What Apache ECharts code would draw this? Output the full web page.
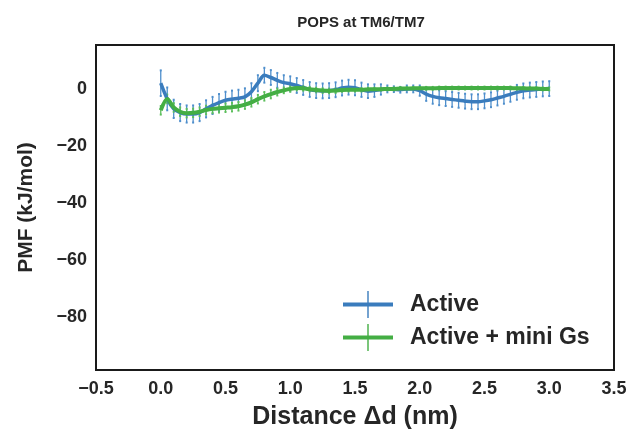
<!DOCTYPE html>
<html>
<head>
<meta charset="utf-8">
<script src="https://cdn.jsdelivr.net/npm/echarts@6/dist/echarts.min.js"></script>
<style>
  html, body { margin: 0; padding: 0; background: #fff; }
  #chart { width: 631px; height: 435px; }
</style>
</head>
<body>
<div id="chart"></div>
<script>
// distance (nm)
const distance = [
  0.00, 0.05, 0.10, 0.15, 0.20, 0.25, 0.30, 0.35, 0.40, 0.45,
  0.50, 0.55, 0.60, 0.65, 0.70, 0.75, 0.80, 0.85, 0.90, 0.95,
  1.00, 1.05, 1.10, 1.15, 1.20, 1.25, 1.30, 1.35, 1.40, 1.45,
  1.50, 1.55, 1.60, 1.65, 1.70, 1.75, 1.80, 1.85, 1.90, 1.95,
  2.00, 2.05, 2.10, 2.15, 2.20, 2.25, 2.30, 2.35, 2.40, 2.45,
  2.50, 2.55, 2.60, 2.65, 2.70, 2.75, 2.80, 2.85, 2.90, 2.95,
  3.00
];

// PMF (kJ/mol), Active
const activePmf = [
  2.0, -3.5, -7.0, -8.3, -8.8, -8.8, -8.3, -7.0, -5.8, -4.8,
  -4.0, -3.6, -3.3, -2.8, -1.0, 2.0, 4.8, 4.0, 3.0, 2.2,
  1.8, 1.2, 0.5, -0.2, -0.6, -0.7, -0.6, -0.3, 0.3, 0.6,
  0.4, -0.3, -0.8, -0.6, -0.2, 0.0, -0.1, -0.3, 0.0, 0.0,
  -0.6, -1.8, -2.6, -3.1, -3.4, -3.7, -4.0, -4.3, -4.5, -4.5,
  -4.2, -3.8, -3.2, -2.6, -1.9, -1.2, -0.7, -0.4, -0.2, 0.0,
  0.1
];
const activeErr = [
  4.5, 4.0, 3.2, 3.0, 3.0, 3.0, 3.0, 3.0, 3.0, 3.0,
  3.0, 3.0, 3.0, 3.0, 3.0, 2.8, 2.6, 2.6, 2.6, 2.6,
  2.6, 2.6, 2.6, 2.6, 2.6, 2.6, 2.6, 2.6, 2.6, 2.6,
  2.6, 2.5, 2.4, 2.2, 1.8, 1.2, 1.0, 1.0, 1.2, 1.2,
  1.8, 2.4, 2.6, 2.6, 2.6, 2.6, 2.6, 2.6, 2.6, 2.6,
  2.6, 2.6, 2.6, 2.6, 2.6, 2.6, 2.6, 2.6, 2.6, 2.6,
  2.6
];

// PMF (kJ/mol), Active + mini Gs
const miniGsPmf = [
  -7.5, -3.5, -6.5, -8.0, -8.5, -8.4, -8.0, -7.4, -7.0, -6.8,
  -6.6, -6.4, -6.1, -5.5, -4.7, -3.6, -2.6, -1.8, -1.1, -0.5,
  0.0, 0.3, 0.2, -0.1, -0.4, -0.6, -0.7, -0.6, -0.4, -0.3,
  -0.3, -0.3, -0.2, -0.1, -0.1, 0.0, 0.0, 0.1, 0.1, 0.2,
  0.2, 0.2, 0.2, 0.3, 0.3, 0.3, 0.3, 0.3, 0.3, 0.3,
  0.3, 0.3, 0.3, 0.3, 0.3, 0.2, 0.2, 0.1, 0.1, 0.0,
  0.0
];
const miniGsErr = [
  1.5, 1.5, 1.5, 1.5, 1.5, 1.5, 1.5, 1.5, 1.5, 1.5,
  1.5, 1.5, 1.5, 1.5, 1.5, 1.5, 1.5, 1.5, 1.2, 1.0,
  1.0, 0.8, 0.8, 0.8, 0.8, 0.8, 0.8, 0.8, 0.6, 0.6,
  0.6, 0.6, 0.6, 0.5, 0.5, 0.5, 0.5, 0.5, 0.5, 0.5,
  0.5, 0.5, 0.5, 0.5, 0.5, 0.5, 0.5, 0.5, 0.5, 0.5,
  0.5, 0.5, 0.5, 0.5, 0.5, 0.5, 0.5, 0.5, 0.5, 0.5,
  0.5
];

const yTicks = [-80, -60, -40, -20, 0];

const blue = '#3a7cbd';
const blueBar = '#4f8fcc';
const green = '#44ae44';
const greenBar = '#5cbf5c';
const textColor = '#262626';
const fontFamily = 'Liberation Sans, Arial, sans-serif';

const minus = (s) => String(s).replace('-', '\u2212');

const pairs = (ys) => distance.map((d, i) => [d, ys[i]]);
const errRows = (ys, es) => distance.map((d, i) => [d, ys[i] - es[i], ys[i] + es[i]]);

// vertical error bar with tiny caps
const errorBar = (color) => (params, api) => {
  const x = api.value(0);
  const lo = api.coord([x, api.value(1)]);
  const hi = api.coord([x, api.value(2)]);
  const style = { stroke: color, lineWidth: 1.3 };
  return {
    type: 'group',
    children: [
      { type: 'line', shape: { x1: lo[0], y1: lo[1], x2: hi[0], y2: hi[1] }, style },
      { type: 'line', shape: { x1: lo[0] - 1, y1: lo[1], x2: lo[0] + 1, y2: lo[1] }, style: { stroke: color, lineWidth: 2 } },
      { type: 'line', shape: { x1: hi[0] - 1, y1: hi[1], x2: hi[0] + 1, y2: hi[1] }, style: { stroke: color, lineWidth: 2 } }
    ]
  };
};

const legendIcon = 'path://M0,11.5 L50,11.5 L50,15.5 L0,15.5 Z M24.3,0 L25.7,0 L25.7,27 L24.3,27 Z';

const chart = echarts.init(document.getElementById('chart'));
chart.setOption({
  animation: false,
  textStyle: { fontFamily },
  title: {
    text: 'POPS at TM6/TM7',
    left: 356,
    textAlign: 'center',
    top: 10,
    textStyle: { fontSize: 15, fontWeight: 'bold', color: textColor, fontFamily }
  },
  grid: {
    left: 96, right: 17, top: 45, bottom: 65,
    show: true, borderColor: '#1a1a1a', borderWidth: 2, backgroundColor: '#fff'
  },
  legend: {
    data: [
      { name: 'Active', icon: legendIcon, itemStyle: { color: blue } },
      { name: 'Active + mini Gs', icon: legendIcon, itemStyle: { color: green } }
    ],
    orient: 'vertical',
    left: 338,
    top: 286,
    itemWidth: 50,
    itemHeight: 27,
    itemGap: 6,
    textStyle: { fontSize: 23, fontWeight: 'bold', color: textColor, fontFamily, padding: [0, 0, 0, 12] }
  },
  xAxis: {
    type: 'value',
    min: -0.5,
    max: 3.5,
    interval: 0.5,
    name: 'Distance \u0394d (nm)',
    nameLocation: 'middle',
    nameGap: 35,
    nameTextStyle: { fontSize: 25, fontWeight: 'bold', color: textColor, fontFamily },
    axisLine: { show: false },
    axisTick: { show: false },
    splitLine: { show: false },
    axisLabel: {
      fontSize: 18, fontWeight: 'bold', color: textColor, margin: 10,
      formatter: (v) => minus(v.toFixed(1))
    }
  },
  yAxis: {
    type: 'value',
    min: -98.6,
    max: 15.4,
    name: 'PMF (kJ/mol)',
    nameLocation: 'middle',
    nameGap: 59,
    nameTextStyle: { fontSize: 21, fontWeight: 'bold', color: textColor, fontFamily },
    axisLine: { show: false },
    axisTick: { show: false },
    splitLine: { show: false },
    axisLabel: {
      customValues: yTicks,
      fontSize: 18, fontWeight: 'bold', color: textColor, margin: 9,
      formatter: (v) => minus(v)
    }
  },
  series: [
    {
      name: 'Active',
      type: 'line',
      data: pairs(activePmf),
      smooth: 0.3,
      showSymbol: false,
      lineStyle: { color: blue, width: 3.5 },
      itemStyle: { color: blue },
      z: 4
    },
    {
      name: 'Active + mini Gs',
      type: 'line',
      data: pairs(miniGsPmf),
      smooth: 0.3,
      showSymbol: false,
      lineStyle: { color: green, width: 4 },
      itemStyle: { color: green },
      z: 5
    },
    {
      name: 'activeErr',
      type: 'custom',
      data: errRows(activePmf, activeErr),
      renderItem: errorBar(blueBar),
      encode: { x: 0, y: [1, 2] },
      silent: true,
      z: 3
    },
    {
      name: 'miniGsErr',
      type: 'custom',
      data: errRows(miniGsPmf, miniGsErr),
      renderItem: errorBar(greenBar),
      encode: { x: 0, y: [1, 2] },
      silent: true,
      z: 3
    }
  ]
});
</script>
</body>
</html>
